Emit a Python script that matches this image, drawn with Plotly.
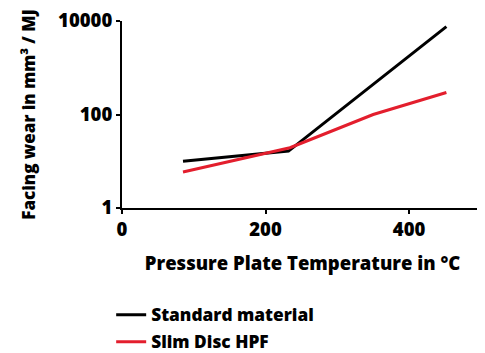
import plotly.graph_objects as go

std_x = [85, 232, 452]
std_y = [10, 16.5, 7600]
hpf_x = [85, 234, 350, 452]
hpf_y = [5.9, 19.5, 100, 295]

font_family = "Open Sans"
W = 800
fig = go.Figure()
fig.add_trace(go.Scatter(x=std_x, y=std_y, mode="lines", name="Standard material",
                         line=dict(color="#000000", width=3), legend="legend"))
fig.add_trace(go.Scatter(x=hpf_x, y=hpf_y, mode="lines", name="Slim Disc HPF",
                         line=dict(color="#e31e2d", width=3), legend="legend2"))

leg_common = dict(xanchor="left", yanchor="middle", itemwidth=30, bgcolor="rgba(0,0,0,0)",
                  font=dict(size=17.3, family=font_family, weight=W))
fig.update_layout(
    width=477, height=345,
    margin=dict(l=114, r=2, t=13, b=145, autoexpand=False),
    plot_bgcolor="white", paper_bgcolor="white",
    font=dict(family=font_family, size=18, color="black", weight=W),
    showlegend=True,
    legend=dict(x=-0.03, y=-(307 - 200) / 187, **leg_common),
    legend2=dict(x=-0.03, y=-(334 - 200) / 187, **leg_common),
)
fig.update_xaxes(range=[0, 503], tickvals=[0, 200, 400], ticktext=["0", "200", "400"],
                 showgrid=False, zeroline=False, showline=True, linecolor="black", linewidth=2,
                 ticks="outside", ticklen=4, tickwidth=2, tickcolor="black", automargin=False,
                 ticklabeloverflow="allow",
                 tickfont=dict(size=18.5, family=font_family, weight=W),
                 title=dict(text="Pressure Plate Temperature in °C", standoff=17,
                            font=dict(size=18.5, family=font_family, weight=W)))
fig.update_yaxes(type="log", range=[0, 4], tickvals=[1, 100, 10000], ticktext=["1", "100", "10000"],
                 showgrid=False, zeroline=False, showline=True, linecolor="black", linewidth=2,
                 ticks="outside", ticklen=4, tickwidth=2, tickcolor="black", automargin=False,
                 ticklabeloverflow="allow",
                 tickfont=dict(size=18.5, family=font_family, weight=W),
                 title=dict(text="Facing wear in mm³ / MJ", standoff=18,
                            font=dict(size=17, family=font_family, weight=W)))
fig.write_html("out.html")
